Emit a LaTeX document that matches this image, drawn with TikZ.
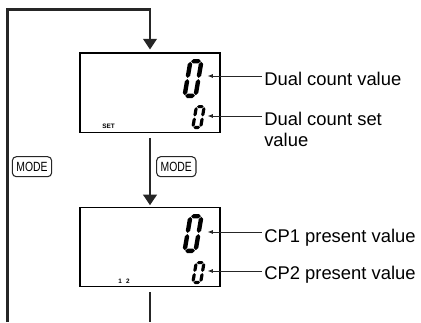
\documentclass[tikz,border=0pt]{standalone}
\usepackage{fontspec}
\setsansfont{Liberation Sans}
\newfontfamily\keyfont[FakeStretch=0.78]{Liberation Sans}
\usetikzlibrary{positioning, arrows.meta}

% one segment of the lcd digits
\newcommand{\lcdhseg}[3]{\fill (#1,#3) -- ({#1+\lcdt/2},{#3+\lcdt/2}) -- ({#2-\lcdt/2},{#3+\lcdt/2}) -- (#2,#3) -- ({#2-\lcdt/2},{#3-\lcdt/2}) -- ({#1+\lcdt/2},{#3-\lcdt/2}) -- cycle;}
\newcommand{\lcdvseg}[3]{\fill (#1,#2) -- ({#1+\lcdt/2},{#2+\lcdt/2}) -- ({#1+\lcdt/2},{#3-\lcdt/2}) -- (#1,#3) -- ({#1-\lcdt/2},{#3-\lcdt/2}) -- ({#1-\lcdt/2},{#2+\lcdt/2}) -- cycle;}
% a seven segment "0": bottom left x, y, width, height, stroke
\newcommand{\lcdzero}[5]{%
  \begin{scope}[shift={(#1,#2)}, x=0.75pt, y=0.75pt, xslant=0.17]
    \pgfmathsetmacro\lcdt{#5}\pgfmathsetmacro\lcdg{0.6}
    \pgfmathsetmacro\lcdl{#5/2}\pgfmathsetmacro\lcdr{#3-#5/2}
    \pgfmathsetmacro\lcdb{#5/2}\pgfmathsetmacro\lcdtop{#4-#5/2}\pgfmathsetmacro\lcdm{#4/2}
    \lcdhseg{\lcdl+\lcdg}{\lcdr-\lcdg}{\lcdtop}
    \lcdhseg{\lcdl+\lcdg}{\lcdr-\lcdg}{\lcdb}
    \lcdvseg{\lcdl}{\lcdm+\lcdg}{\lcdtop-\lcdg}
    \lcdvseg{\lcdl}{\lcdb+\lcdg}{\lcdm-\lcdg}
    \lcdvseg{\lcdr}{\lcdm+\lcdg}{\lcdtop-\lcdg}
    \lcdvseg{\lcdr}{\lcdb+\lcdg}{\lcdm-\lcdg}
  \end{scope}}

\begin{document}
\begin{tikzpicture}[x=0.75pt, y=-0.75pt,
    lcdbox/.style={draw=black, line width=1pt, minimum width=105pt,
        minimum height=59.5pt, inner sep=0pt},
    modekey/.style={draw=black!85, line width=0.8pt, rounded corners=3pt,
        minimum width=29.5pt, minimum height=15pt, inner sep=0pt,
        font=\keyfont\fontsize{10}{10}\selectfont},
    flow/.style={line width=2pt, draw=black!85},
    flowarr/.style={flow, -{Triangle[length=8pt, width=10pt]}},
    callout/.style={{Latex[length=4pt, width=3pt]}-, line width=0.7pt, draw=black!85},
    lbl/.style={anchor=base west, inner sep=1.5pt,
        font=\sffamily\fontsize{13.8}{15.75}\selectfont},
    tinylbl/.style={inner sep=0pt, font=\sffamily\bfseries\fontsize{4.8}{5}\selectfont}
]
\useasboundingbox (0,0) rectangle (421,322);

% displays
\node[lcdbox] (disp1) at (150,92.5) {};
\node[tinylbl] (set) at (108.5,126.3) {SET};
\lcdzero{182}{98}{15.4}{39}{4.4}
\lcdzero{191}{129}{11}{24}{3.2}

\node[lcdbox] (disp2) at (150,247) {};
\node[tinylbl] (cp) at (124,281.5) {1\hspace{3pt}2};
\lcdzero{182}{253}{15.4}{39}{4.4}
\lcdzero{191}{284}{11}{23}{3.2}

% keys
\node[modekey] (mode1) at (32,166.7) {MODE};
\node[modekey] (mode2) at (176.3,166.7) {MODE};

% flow
\coordinate (loopbot) at (7.5,322);
\coordinate (looptop) at (7.5,9.5);
\coordinate (flowend) at (150,322);
\draw[flowarr, shorten >=2pt] (loopbot) -- (looptop) -| (disp1.north);
\draw[flowarr, shorten <=3.75pt, shorten >=1pt] (disp1.south) -- (disp2.north);
\draw[flow, shorten <=3.75pt] (disp2.south) -- (flowend);

% labels
\coordinate (tip1) at (207.5,76);
\coordinate (tip2) at (207.5,116);
\coordinate (tip3) at (207.5,232);
\coordinate (tip4) at (207.5,271);
\node[lbl] (lbl1) at (262,85) {Dual count value};
\node[lbl] (lbl2) at (262,125) {\vtop{\hbox{Dual count set}\hbox{value}}};
\node[lbl] (lbl3) at (262,242.7) {CP1 present value};
\node[lbl] (lbl4) at (262,279.3) {CP2 present value};
\draw[callout] (tip1) -- (tip1 -| lbl1.west);
\draw[callout] (tip2) -- (tip2 -| lbl2.west);
\draw[callout] (tip3) -- (tip3 -| lbl3.west);
\draw[callout] (tip4) -- (tip4 -| lbl4.west);

\end{tikzpicture}
\end{document}
